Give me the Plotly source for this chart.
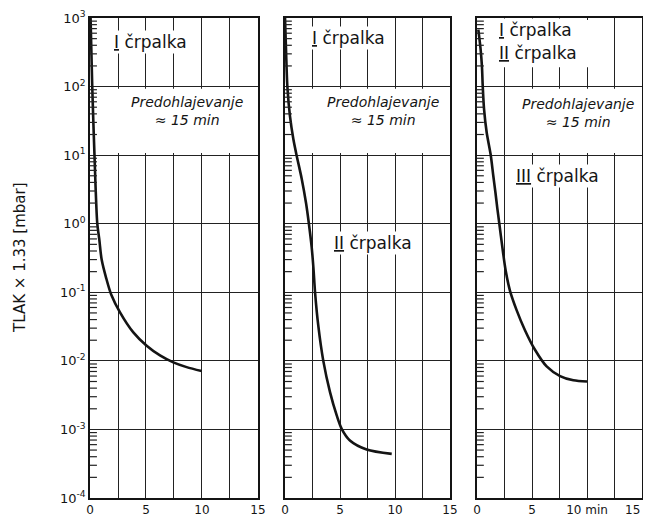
import plotly.graph_objects as go

# ---- data ----
t1 = [0.05, 0.2, 0.4, 0.65, 0.83, 1.04, 1.45, 1.9, 2.68, 3.87, 5.06, 6.25, 7.44, 8.63, 9.97]
p1 = [1000, 100, 10, 1.0, 0.59, 0.30, 0.16, 0.092, 0.051, 0.026, 0.0166, 0.012, 0.0095, 0.0081, 0.0071]

t2 = [0.0, 0.09, 0.21, 0.45, 0.76, 1.06, 1.52, 1.91, 2.17, 2.42, 2.58, 2.73, 3.03, 3.48, 4.09, 4.7, 5.15, 5.9, 7.42, 9.7]
p2 = [1000, 347, 102, 37, 17, 9.8, 4.5, 2.0, 1.0, 0.46, 0.23, 0.10, 0.032, 0.010, 0.0035, 0.0016, 0.00102, 0.00069, 0.00051, 0.00044]

t3 = [0.12, 0.33, 0.45, 0.52, 0.64, 0.88, 1.24, 1.48, 1.67, 1.85, 2.03, 2.30, 2.6, 3.0, 3.6, 4.36, 5.27, 6.33, 7.55, 8.76, 10.0]
p3 = [676, 347, 195, 102, 47, 21.4, 10.2, 5.0, 2.9, 1.66, 1.0, 0.46, 0.21, 0.105, 0.055, 0.028, 0.0145, 0.0083, 0.006, 0.0052, 0.005]

y_tick_vals = [1e3, 1e2, 1e1, 1e0, 1e-1, 1e-2, 1e-3, 1e-4]
y_tick_text = ["10<sup>3</sup>", "10<sup>2</sup>", "10<sup>1</sup>", "10<sup>0</sup>",
               "10<sup>-1</sup>", "10<sup>-2</sup>", "10<sup>-3</sup>", "10<sup>-4</sup>"]
x_grid_vals = [0, 2.5, 5, 7.5, 10, 12.5, 15]
x_tick_text = ["0", "", "5", "", "10", "", "15"]
x_tick_text_last = ["0", "", "5", "", "10 min", "", ""]
x_last_label = "15"

minor_vals = [m * 10.0 ** d for d in range(-4, 3) for m in range(2, 10)]

FONT = "DejaVu Sans"
INK = "#141414"

fig = go.Figure()
series = [(t1, p1), (t2, p2), (t3, p3)]
for i, (t, p) in enumerate(series):
    sfx = "" if i == 0 else str(i + 1)
    fig.add_trace(go.Scatter(
        x=t, y=p, mode="lines",
        line=dict(color=INK, width=2.6, shape="spline", smoothing=0.8),
        xaxis="x" + sfx, yaxis="y" + sfx, showlegend=False, hoverinfo="skip"))

# the page body has an 8px margin, so the figure is sized/offset to compensate
domains = [[0.0, 0.3043], [0.3533, 0.6522], [0.7011, 1.0]]
layout = dict(
    width=643, height=509,
    margin=dict(l=82, r=9, t=10, b=19),
    paper_bgcolor="white", plot_bgcolor="white",
    font=dict(family=FONT, color=INK, size=12),
    showlegend=False,
)
for i in range(3):
    sfx = "" if i == 0 else str(i + 1)
    layout["xaxis" + sfx] = dict(
        domain=domains[i], range=[0, 15], anchor="y" + sfx, automargin=False,
        tickmode="array", tickvals=x_grid_vals,
        ticktext=x_tick_text_last if i == 2 else x_tick_text,
        ticklabeloverflow="allow", ticklabelstandoff=0,
        showgrid=True, gridcolor="#222", gridwidth=1.1,
        showline=True, linecolor=INK, linewidth=1.6, mirror=True,
        ticks="", zeroline=False, tickfont=dict(size=12, family=FONT),
    )
    layout["yaxis" + sfx] = dict(
        type="log", range=[-4, 3], anchor="x" + sfx, automargin=False,
        tickmode="array", tickvals=y_tick_vals, ticktext=y_tick_text,
        showticklabels=(i == 0), ticklabeloverflow="allow",
        showgrid=True, gridcolor="#222", gridwidth=1.1,
        showline=True, linecolor=INK, linewidth=1.6, mirror=True,
        ticks="", zeroline=False, tickfont=dict(size=13, family=FONT),
    )
fig.update_layout(**layout)

# last x label of the third panel sits flush with the frame's right edge
fig.add_annotation(text=x_last_label, xref="x3", yref="paper", x=15, y=0,
                   xanchor="right", yanchor="top", yshift=-3, showarrow=False,
                   font=dict(family=FONT, size=12, color=INK))

# white "paper" patches where the hand-drawn grid is interrupted by the notes
patches = [
    ("x", "y", 1.0, 14.85, 10 ** 1.03, 10 ** 1.97),
    ("x2", "y2", 1.3, 14.85, 10 ** 1.03, 10 ** 1.97),
    ("x3", "y3", 2.6, 14.85, 10 ** 1.03, 10 ** 1.97),
    ("x3", "y3", 0.7, 11.0, 10 ** 2.28, 10 ** 2.97),
]
for xr, yr, x0, x1, y0, y1 in patches:
    fig.add_shape(type="rect", xref=xr, yref=yr, x0=x0, x1=x1, y0=y0, y1=y1,
                  fillcolor="white", line=dict(width=0), layer="between")

# minor (logarithmic) tick marks drawn inward from each left axis
TICK_LEN_MIN = 0.62
for i in range(3):
    sfx = "" if i == 0 else str(i + 1)
    for v in minor_vals:
        fig.add_shape(type="line", xref="x" + sfx, yref="y" + sfx,
                      x0=0, x1=TICK_LEN_MIN, y0=v, y1=v,
                      line=dict(color="#222", width=1.2), layer="above")

def note(text, xr, yr, x, y, size=17, anchor="left"):
    fig.add_annotation(text=text, xref=xr, yref=yr, x=x, y=y, showarrow=False,
                       xanchor=anchor, yanchor="middle", bgcolor="white",
                       font=dict(family=FONT, size=size, color=INK))

pre = "<i>Predohlajevanje</i><br><i>≈ 15 min</i>"
note("<u>I</u> črpalka", "x", "y", 2.0, 2.65)
note(pre, "x", "y", 8.7, 1.65, size=14, anchor="center")
note("<u>I</u> črpalka", "x2", "y2", 2.3, 2.71)
note(pre, "x2", "y2", 8.9, 1.65, size=14, anchor="center")
note("<u>II</u> črpalka", "x2", "y2", 4.3, -0.28)
note("<u>I</u> črpalka", "x3", "y3", 1.8, 2.83)
note("<u>II</u> črpalka", "x3", "y3", 1.8, 2.49)
note(pre, "x3", "y3", 9.2, 1.62, size=14, anchor="center")
note("<u>III</u> črpalka", "x3", "y3", 3.4, 0.70)

fig.add_annotation(text="TLAK × 1.33 [mbar]", xref="paper", yref="paper",
                   x=-0.127, y=0.5, xanchor="center", yanchor="middle",
                   textangle=-90, showarrow=False,
                   font=dict(family=FONT, size=15, color=INK))

fig.write_html("out.html")
